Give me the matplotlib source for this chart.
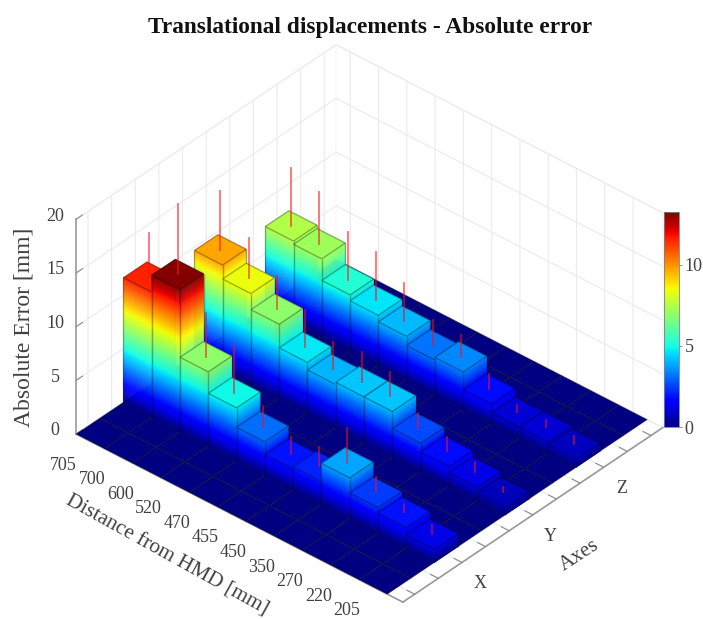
import numpy as np
import matplotlib
matplotlib.use('Agg')
import matplotlib.pyplot as plt
from matplotlib import colormaps
from matplotlib.colors import Normalize
from matplotlib.cm import ScalarMappable
from matplotlib.transforms import ScaledTranslation
from mpl_toolkits.mplot3d import proj3d
from mpl_toolkits.mplot3d.art3d import Poly3DCollection, Line3DCollection

plt.rcParams['font.family'] = ['Liberation Serif', 'DejaVu Serif']

distance_labels = ['705', '700', '600', '520', '470', '455', '450', '350', '270', '220', '205']
axis_labels = ['', '', 'X', '', '', 'Y', '', '', 'Z', '', '']
err_x = [11.6, 13.2, 6.9, 4.9, 3.1, 1.9, 2.1, 3.8, 2.4, 1.9, 1.2]
err_y = [9.7, 8.4, 6.9, 4.7, 4.0, 4.2, 4.2, 2.6, 1.8, 1.2, 0.7]
err_z = [7.5, 7.2, 5.2, 4.65, 4.05, 3.2, 3.45, 1.8, 1.0, 1.0, 0.75]
sd_x = [4.1, 6.6, 4.1, 4.4, 1.9, 1.6, 1.8, 3.2, 1.4, 0.75, 0.85]
sd_y = [5.5, 3.8, 3.1, 3.5, 2.5, 2.8, 2.3, 1.4, 1.3, 0.9, 0.45]
sd_z = [5.4, 4.8, 4.4, 4.5, 3.6, 2.3, 2.0, 1.4, 0.65, 0.65, 0.75]
row_positions = {'X': 3, 'Y': 6, 'Z': 9}
C_MAX = 13.27

W, H = 703, 619
fig = plt.figure(figsize=(W / 100, H / 100), dpi=100)
ax = fig.add_axes([0, 0, 1, 1], projection='3d', proj_type='ortho', computed_zorder=False)
ax.patch.set_visible(False)
ax.view_init(elev=36, azim=-48.8)
XL, YL, ZL = (0.5, 12.05), (0.5, 11.5), (0, 20)
ax.set_xlim(*XL); ax.set_ylim(*YL); ax.set_zlim(*ZL)
ax.set_box_aspect((434.6, 395, 265.8))

cmap = colormaps['jet']
norm = Normalize(0, C_MAX)
EDGE = (0, 0, 0, 0.3)
z = 2

# floor
cells = []
for i in range(1, 12):
    for j in range(1, 12):
        cells.append([(i - .5, j - .5, 0), (i + .5, j - .5, 0), (i + .5, j + .5, 0), (i - .5, j + .5, 0)])
floor = Poly3DCollection(cells, facecolors=[cmap(0.0)], edgecolors=[(0, 0, 0, 0.3)], linewidths=0.8, zorder=1)
ax.add_collection3d(floor, autolim=False)

for row, heights, sds in [('Z', err_z, sd_z), ('Y', err_y, sd_y), ('X', err_x, sd_x)]:
    y = row_positions[row]
    for i, (h, s) in enumerate(zip(heights, sds), start=1):
        x0, x1, y0, y1 = i - .5, i + .5, y - .5, y + .5
        levels = np.append(np.arange(0, h, 0.1), h)
        polys, cols = [], []
        for a, b in zip(levels[:-1], levels[1:]):
            c = cmap(norm((a + b) / 2))
            polys.append([(x0, y0, a), (x1, y0, a), (x1, y0, b), (x0, y0, b)]); cols.append(c)
            polys.append([(x1, y0, a), (x1, y1, a), (x1, y1, b), (x1, y0, b)]); cols.append(c)
        polys.append([(x0, y0, h), (x1, y0, h), (x1, y1, h), (x0, y1, h)]); cols.append(cmap(norm(h)))
        pc = Poly3DCollection(polys, facecolors=cols, edgecolors=cols, linewidths=0.3, zorder=z)
        ax.add_collection3d(pc, autolim=False)
        z += 1
        segs = [[(x0, y0, 0), (x0, y0, h)], [(x1, y0, 0), (x1, y0, h)], [(x1, y1, 0), (x1, y1, h)],
                [(x0, y0, h), (x1, y0, h)], [(x1, y0, h), (x1, y1, h)], [(x1, y1, h), (x0, y1, h)], [(x0, y1, h), (x0, y0, h)]]
        ax.add_collection3d(Line3DCollection(segs, colors=[EDGE], linewidths=1.0, zorder=z), autolim=False)
        z += 1
        ax.plot([i, i], [y, y], [h, h + s], color=(1, 0.05, 0.1, 0.6), lw=1.3, zorder=z)
        z += 1

TXT = '#404040'
ax.set_xticks(range(1, 12), distance_labels)
ax.set_yticks(range(1, 12), axis_labels)
ax.set_zticks([0, 5, 10, 15, 20])
ax.tick_params(axis='x', labelsize=13, labelcolor=TXT, pad=7, color='.55')
ax.tick_params(axis='y', labelsize=13, labelcolor=TXT, pad=7, color='.55')
ax.tick_params(axis='z', labelsize=13, labelcolor=TXT, pad=6, color='.55')
for axis in (ax.xaxis, ax.yaxis, ax.zaxis):
    axis.pane.set_facecolor('white')
    axis.pane.set_edgecolor((.92, .92, .92, 1))
    axis.line.set_color('.6')
    axis.line.set_linewidth(1.2)
    axis._axinfo['grid'].update(color=(.92, .92, .92, 1), linewidth=0.8)
    axis._axinfo['tick'].update(inward_factor=0.0, outward_factor=0.3)
    axis.set_rotate_label(False)
ax.zaxis.set_ticks_position('lower')
ax.zaxis.set_label_position('lower')
ax.set_xlabel('Distance from HMD [mm]', fontsize=15.3, color=TXT, rotation=-29, labelpad=22)
ax.set_ylabel('Axes', fontsize=15, color=TXT, rotation=33, labelpad=16)
ax.set_zlabel('Absolute Error [mm]', fontsize=17, color=TXT, rotation=90, labelpad=0)


def nudge(text, dx, dy):
    # pixel offset on top of the place the 3D axis gives (dy positive = up);
    # the 3D axis resets the transforms while drawing, so it is applied on lookup
    shift = ScaledTranslation(dx / 100, dy / 100, fig.dpi_scale_trans)
    text.get_transform = lambda: ax.transData + shift


for lab in ax.get_xticklabels():
    nudge(lab, -10, 9.5)
for lab in ax.get_yticklabels():
    nudge(lab, -3, 11.5)
for lab in ax.get_zticklabels():
    nudge(lab, 14, 12)
nudge(ax.xaxis.label, -25, 34)
nudge(ax.yaxis.label, -5, 20)
nudge(ax.zaxis.label, 0, 0)

# fit the projected box onto its place in the figure
targets = [((XL[0], YL[0], 0), (76, 434)), ((XL[1], YL[0], 0), (403, 602)),
           ((XL[1], YL[1], 0), (663, 427)), ((XL[0], YL[0], 20), (76, 220))]
ax.apply_aspect()
M = ax.get_proj()
bb = ax.get_position().transformed(fig.transFigure)
A, B = [], []
for p, (px, py) in targets:
    nx, ny, _ = proj3d.proj_transform(*p, M)
    mx, my = ax.transData.transform((nx, ny))
    ux, uy = (mx - bb.x0) / bb.width, (my - bb.y0) / bb.height
    A += [[1, 0, ux], [0, 1, uy]]
    B += [px, H - py]
l, b, S = np.linalg.lstsq(np.array(A), np.array(B), rcond=None)[0]
ax.set_position([l / W, b / H, S / W, S / H])

fig.text(370 / W, 1 - 27.5 / H, 'Translational displacements - Absolute error', ha='center', va='center',
         fontsize=16.85, fontweight='bold', color='#111111')

cax = fig.add_axes([664 / W, 1 - 427 / H, 15 / W, 215 / H])
cb = fig.colorbar(ScalarMappable(norm=norm, cmap=cmap), cax=cax, ticks=[0, 5, 10])
cb.ax.tick_params(labelsize=13, labelcolor=TXT, length=2, color='.5', width=0.6, pad=2)
cb.outline.set_edgecolor('.5')
cb.outline.set_linewidth(0.6)

fig.savefig('out.png', dpi=100)
